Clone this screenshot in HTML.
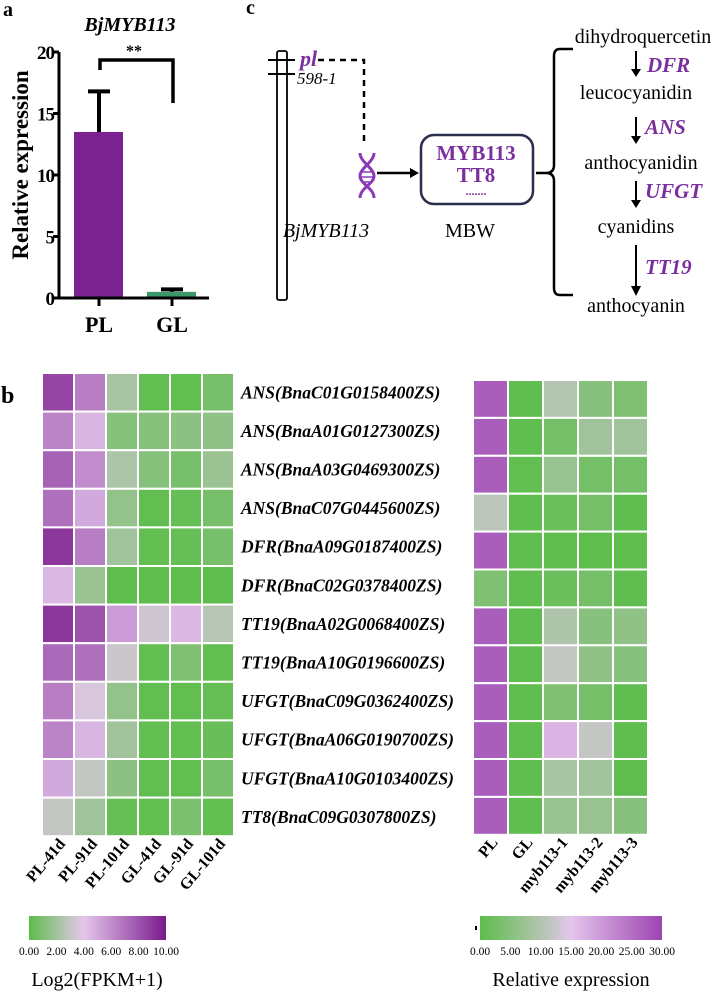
<!DOCTYPE html>
<html><head><meta charset="utf-8"><style>
html,body{margin:0;padding:0;background:#fff}
svg{display:block;font-family:"Liberation Serif",serif}
</style></head><body>
<svg id="fig" width="713" height="992" viewBox="0 0 713 992" xmlns="http://www.w3.org/2000/svg">
<defs>
<linearGradient id="gl" x1="0" x2="1" y1="0" y2="0">
<stop offset="0" stop-color="#5cbd4a"/><stop offset="0.3" stop-color="#c4c6c4"/><stop offset="0.4" stop-color="#e4c6ec"/><stop offset="1" stop-color="#7a1a8c"/></linearGradient>
<linearGradient id="gr" x1="0" x2="1" y1="0" y2="0">
<stop offset="0" stop-color="#5cbd4a"/><stop offset="0.4" stop-color="#c4c6c4"/><stop offset="0.5" stop-color="#e4c6ec"/><stop offset="1" stop-color="#9b44b0"/></linearGradient>
</defs>
<text x="3" y="16" font-size="20" font-weight="bold">a</text>
<text x="1" y="403" font-size="24" font-weight="bold">b</text>
<text x="246" y="14" font-size="20" font-weight="bold">c</text>

<g id="bar"></g>
<g id="hmL"></g>
<g id="hmR"></g>

<!-- panel c -->
<g>
<rect x="277" y="51" width="10" height="249" rx="2" fill="#fff" stroke="#000" stroke-width="1.8"/>
<line x1="268" y1="60" x2="295" y2="60" stroke="#000" stroke-width="2"/>
<line x1="268" y1="74" x2="295" y2="74" stroke="#000" stroke-width="2"/>
<text x="300" y="66" font-size="22" font-weight="bold" font-style="italic" fill="#7b2f9e">pl</text>
<text x="297" y="84" font-size="17" font-style="italic">598-1</text>
<polyline points="318,60 364,60 364,146" fill="none" stroke="#000" stroke-width="2.5" stroke-dasharray="6,5"/>
<g stroke="#8a3ab8" stroke-width="3" fill="none">
<path d="M360,153 C360,162 374,168 374,176 C374,184 360,188 360,198"/>
<path d="M374,153 C374,162 360,168 360,176 C360,184 374,188 374,198"/>
<line x1="362" y1="172" x2="372" y2="172" stroke-width="1.5"/><line x1="361" y1="177" x2="373" y2="177" stroke-width="1.5"/><line x1="362" y1="182" x2="372" y2="182" stroke-width="1.5"/>
</g>
<line x1="377" y1="173" x2="412" y2="173" stroke="#000" stroke-width="2.5"/>
<polygon points="419,173 410,168 410,178" fill="#000"/>
<rect x="421" y="135" width="112" height="69" rx="13" fill="#fff" stroke="#2b2f4d" stroke-width="2.5"/>
<text x="476" y="160" font-size="21" font-weight="bold" fill="#7b2f9e" text-anchor="middle">MYB113</text>
<text x="476" y="182" font-size="21" font-weight="bold" fill="#7b2f9e" text-anchor="middle">TT8</text>
<text x="476" y="195" font-size="12" font-weight="bold" fill="#7b2f9e" text-anchor="middle">.......</text>
<text x="326" y="237" font-size="20" font-style="italic" text-anchor="middle">BjMYB113</text>
<text x="470" y="237" font-size="20" text-anchor="middle">MBW</text>
<path d="M573,49 L560,49 Q554,49 554,56 L554,165 Q554,173 546,173 L536,173 M546,173 Q554,173 554,181 L554,288 Q554,295 560,295 L573,295" fill="none" stroke="#000" stroke-width="2.5"/>
<g font-size="20" text-anchor="middle">
<text x="643" y="43">dihydroquercetin</text>
<text x="636" y="99">leucocyanidin</text>
<text x="641" y="169">anthocyanidin</text>
<text x="636" y="233">cyanidins</text>
<text x="636" y="312">anthocyanin</text>
</g>
<g stroke="#000" stroke-width="2">
<line x1="636" y1="51" x2="636" y2="71"/><line x1="636" y1="117" x2="636" y2="138"/><line x1="636" y1="181" x2="636" y2="202"/><line x1="636" y1="245" x2="636" y2="288"/>
</g>
<g fill="#000"><polygon points="636,77 631,69 641,69"/><polygon points="636,144 631,136 641,136"/><polygon points="636,208 631,200 641,200"/><polygon points="636,296 631,286 641,286"/></g>
<g font-size="21" font-weight="bold" font-style="italic" fill="#7b2f9e">
<text x="647" y="72">DFR</text>
<text x="645" y="134">ANS</text>
<text x="645" y="198">UFGT</text>
<text x="645" y="274">TT19</text>
</g>
</g>

<!-- colorbars -->
<rect x="29" y="916" width="137" height="24" fill="url(#gl)"/>
<rect x="480" y="916" width="182" height="24" fill="url(#gr)"/>
<rect x="475" y="926" width="2" height="4" fill="#000"/>
<g id="cbticks" font-size="11.5" text-anchor="middle"></g>
<text x="97" y="986" font-size="20" text-anchor="middle">Log2(FPKM+1)</text>
<text x="571" y="986" font-size="20" text-anchor="middle">Relative expression</text>
</svg>
<script>
const NS='http://www.w3.org/2000/svg';
function mk(p,t,a){const e=document.createElementNS(NS,t);for(const k in a)e.setAttribute(k,a[k]);p.appendChild(e);return e;}

// ---- bar chart data ----
const barCats=['PL','GL'];
const barVals=[13.5,0.5];
const barErr=[3.3,0.2];
const barTicks=[0,5,10,15,20];
const barColors=['#7b2290','#3a9a6a'];
(function(){
 const g=document.getElementById('bar');
 const x0=59,y0=298,ppu=12.3;const ys=v=>y0-v*ppu;
 const xs=[99,172];
 barCats.forEach((c,i)=>{
  const r=mk(g,'rect',{x:xs[i]-25,y:ys(barVals[i]),width:49,height:y0-ys(barVals[i]),fill:barColors[i]});
  
  
  const top=ys(barVals[i]+barErr[i]);
  mk(g,'line',{x1:xs[i],y1:ys(barVals[i]),x2:xs[i],y2:top,stroke:'#000','stroke-width':4});
  const cap=mk(g,'line',{x1:xs[i]-11,y1:top,x2:xs[i]+11,y2:top,stroke:'#000','stroke-width':4});
  
  
  mk(g,'line',{x1:xs[i],y1:y0,x2:xs[i],y2:y0+8,stroke:'#000','stroke-width':3});
  const t=mk(g,'text',{x:xs[i],y:y0+34,'font-size':22,'font-weight':'bold','text-anchor':'middle'});t.textContent=c;
  
  
 });
 mk(g,'line',{x1:x0,y1:y0,x2:209,y2:y0,stroke:'#000','stroke-width':3});
 mk(g,'line',{x1:x0,y1:y0+1.5,x2:x0,y2:ys(20),stroke:'#000','stroke-width':3});
 barTicks.forEach(v=>{
  mk(g,'line',{x1:x0-6,y1:ys(v),x2:x0,y2:ys(v),stroke:'#000','stroke-width':3});
  const t=mk(g,'text',{x:x0-5,y:ys(v)+7,'font-size':19,'font-weight':'bold','text-anchor':'end','letter-spacing':'-1'});t.textContent=v;
  
  
 });
 const yl=mk(g,'text',{x:0,y:0,'font-size':23,'font-weight':'bold','text-anchor':'middle',transform:'translate(28,165) rotate(-90)'});yl.textContent='Relative expression';
 
 
 const ti=mk(g,'text',{x:130,y:31,'font-size':20,'font-weight':'bold','font-style':'italic','text-anchor':'middle'});ti.textContent='BjMYB113';
 
 
 const br=mk(g,'polyline',{points:'100,70 100,60 173,60 173,103',fill:'none',stroke:'#000','stroke-width':3.5});
 
 
 const st=mk(g,'text',{x:134,y:56,'font-size':16,'font-weight':'bold','text-anchor':'middle'});st.textContent='**';
 
 
})();

// ---- heatmap data ----
const genes=['ANS(BnaC01G0158400ZS)','ANS(BnaA01G0127300ZS)','ANS(BnaA03G0469300ZS)','ANS(BnaC07G0445600ZS)','DFR(BnaA09G0187400ZS)','DFR(BnaC02G0378400ZS)','TT19(BnaA02G0068400ZS)','TT19(BnaA10G0196600ZS)','UFGT(BnaC09G0362400ZS)','UFGT(BnaA06G0190700ZS)','UFGT(BnaA10G0103400ZS)','TT8(BnaC09G0307800ZS)'];
const samplesL=['PL-41d','PL-91d','PL-101d','GL-41d','GL-91d','GL-101d'];
const fpkm=[
[8.5,6.5,2.2,0.2,0.2,0.8],
[6.3,4.6,1.2,1.2,1.4,1.5],
[7.5,6.0,2.3,1.2,0.8,1.8],
[7.0,5.0,1.6,0.2,0.3,0.8],
[9.0,6.5,2.0,0.2,0.3,0.8],
[4.5,1.8,0.1,0.1,0.1,0.1],
[9.0,8.0,5.5,3.3,4.5,2.6],
[7.2,7.0,3.2,0.2,1.0,0.2],
[6.5,3.6,1.6,0.2,0.2,0.3],
[6.3,4.6,2.0,0.2,0.2,0.4],
[5.0,3.0,1.4,0.2,0.2,0.8],
[3.0,2.0,0.3,0.2,0.9,0.2]];
const samplesR=['PL','GL','myb113-1','myb113-2','myb113-3'];
const relExpr=[
[27,0.5,10,5,4],
[27,0.5,3,8,8],
[27,0.8,7,3,3],
[11,0.5,2,3,0.5],
[27,0.5,0.2,0.2,0.2],
[4,0.5,2,3,0.5],
[27,0.5,9.5,5,6],
[27,0.5,12,6,5],
[27,0.5,4,3,0.5],
[27,0.5,17,12,0.5],
[27,0.5,9,8,0.5],
[27,0.5,7,7,5]];
const ticksL=['0.00','2.00','4.00','6.00','8.00','10.00'];
const ticksR=['0.00','5.00','10.00','15.00','20.00','25.00','30.00'];

function lerp(a,b,t){return a.map((v,i)=>Math.round(v+(b[i]-v)*t));}
function scale(stops,v){
 if(v<=stops[0][0])return stops[0][1];
 for(let i=1;i<stops.length;i++){if(v<=stops[i][0]){const t=(v-stops[i-1][0])/(stops[i][0]-stops[i-1][0]);return lerp(stops[i-1][1],stops[i][1],t);}}
 return stops[stops.length-1][1];}
const G=[92,189,74],GR=[196,198,196],LV=[228,198,236];
const stopsL=[[0,G],[3,GR],[4,LV],[10,[122,26,140]]];
const stopsR=[[0,G],[12,GR],[15,LV],[30,[155,68,176]]];
function rgb(c){return 'rgb('+c.join(',')+')';}

function heat(gid,data,samples,stops,x0,y0,cw,rh,labels){
 const g=document.getElementById(gid);
 data.forEach((row,r)=>row.forEach((v,c)=>{
  const e=mk(g,'rect',{x:x0+c*cw,y:y0+r*rh,width:cw,height:rh,fill:rgb(scale(stops,v)),stroke:'#fff','stroke-width':2});
  
  
 }));
 samples.forEach((s,c)=>{
  const cx=x0+c*cw+cw/2+8, cy=y0+data.length*rh+8;
  const t=mk(g,'text',{x:0,y:0,'font-size':16,'font-weight':'bold','text-anchor':'end',transform:'translate('+cx+','+cy+') rotate(-50)'});
  t.textContent=s;
  
  
 });
 if(labels){
  genes.forEach((gn,r)=>{
   const t=mk(g,'text',{x:x0+samples.length*cw+7,y:y0+r*rh+rh/2+6,'font-size':17.5,'font-weight':'bold','font-style':'italic'});
   t.textContent=gn;
   
   
  });
 }
}
heat('hmL',fpkm,samplesL,stopsL,42,373,32,38.6,true);
heat('hmR',relExpr,samplesR,stopsR,473,380,35,37.9,false);

(function(){
 const g=document.getElementById('cbticks');
 ticksL.forEach((t,i)=>{const e=mk(g,'text',{x:29+i*137/(ticksL.length-1),y:955});e.textContent=t;
  
  });
 ticksR.forEach((t,i)=>{const e=mk(g,'text',{x:480+i*182/(ticksR.length-1),y:955});e.textContent=t;
  
  });
})();
</script>
</body></html>
